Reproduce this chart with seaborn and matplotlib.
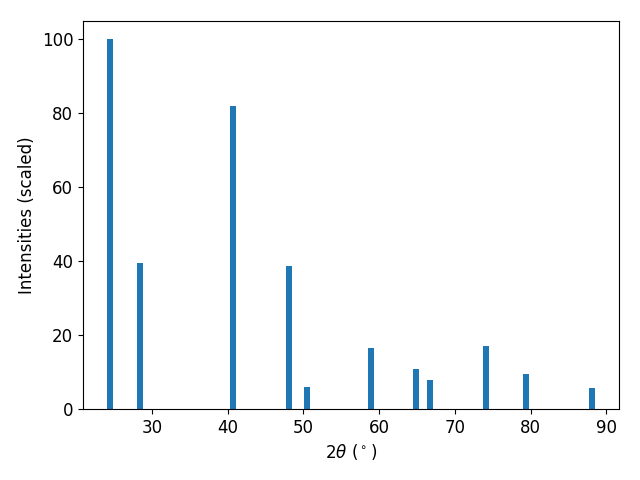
"""
plot.py
Stick pattern of scaled peak intensities against 2-theta.
"""

import numpy as np
import pandas as pd
import matplotlib
matplotlib.use("Agg")
import matplotlib.pyplot as plt
import seaborn as sns

# ---------------------------------------------------------------------------
# Peak list
# ---------------------------------------------------------------------------
two_theta = [24.54, 28.50, 40.66, 48.12, 50.49, 58.90, 64.83, 66.67, 74.09, 79.37, 88.05]
intensity = [100.0, 39.6, 82.1, 38.75, 5.96, 16.5, 10.8, 7.86, 17.07, 9.49, 5.7]

df = pd.DataFrame({"two_theta": two_theta, "intensity": intensity})

# seaborn scales bar width by the smallest gap between peaks on a native
# axis, so undo that to get bars 0.8 degrees wide.
BAR_WIDTH = 0.8
min_gap = np.diff(np.sort(df["two_theta"].unique())).min()

plt.rcParams.update({"font.family": "DejaVu Sans", "font.size": 12})

fig, ax = plt.subplots(figsize=(6.4, 4.8), dpi=100)

sns.barplot(
    data=df,
    x="two_theta",
    y="intensity",
    native_scale=True,
    width=BAR_WIDTH / min_gap,
    color="#1f77b4",
    saturation=1,
    errorbar=None,
    ax=ax,
)

ax.set_xlabel(r"$2\theta$ ($^\circ$)")
ax.set_ylabel("Intensities (scaled)")
ax.margins(x=0.05, y=0.05)
ax.set_ylim(0, None)

fig.subplots_adjust(left=83 / 640, right=619 / 640, top=1 - 21 / 480, bottom=1 - 409 / 480)
plt.savefig("out.png", dpi=100)
